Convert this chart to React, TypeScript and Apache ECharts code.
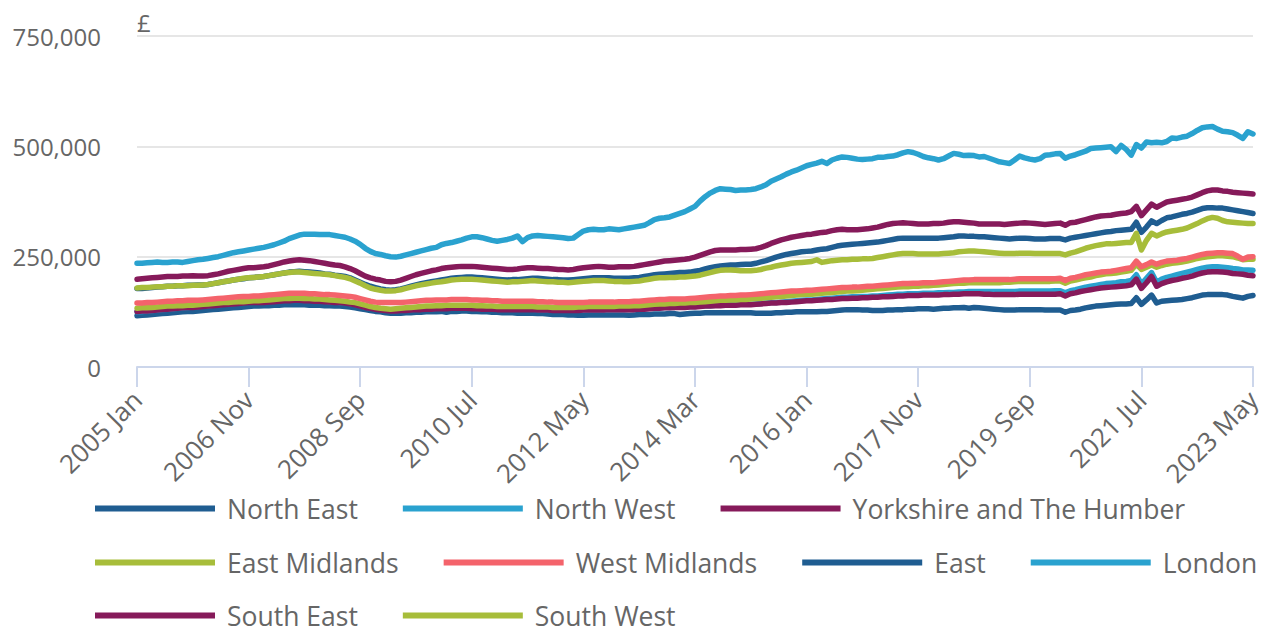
import React, { useEffect, useRef } from "react";
import * as echarts from "echarts";

// Average house price by region, monthly, £ thousands
const MONTHS = ["Jan", "Feb", "Mar", "Apr", "May", "Jun", "Jul", "Aug", "Sep", "Oct", "Nov", "Dec"];
const FIRST_YEAR = 2005;
const MONTH_COUNT = 221; // 2005 Jan .. 2023 May
const CATEGORIES: string[] = [];
for (let i = 0; i < MONTH_COUNT; i++) {
  CATEGORIES.push(`${FIRST_YEAR + Math.floor(i / 12)} ${MONTHS[i % 12]}`);
}

const NORTH_EAST = [
  116,117,118,119,120,121,122,123,124,125,126,126,
  127,128,129,130,131,132,133,134,135,136,137,138,
  138,139,139,140,140,141,141,141,141,141,140,140,
  140,139,139,138,138,137,136,134,132,130,128,126,
  125,123,122,122,122,123,123,124,124,125,125,125,
  126,124,126,126,127,127,126,126,125,125,124,124,
  123,123,123,122,122,122,122,121,121,120,119,119,
  119,118,118,117,117,118,118,118,118,118,118,118,
  118,117,118,119,119,119,120,120,120,121,121,119,
  120,121,122,122,123,123,123,123,123,123,123,123,
  123,123,122,122,122,122,123,123,124,124,125,125,
  125,125,125,126,126,127,128,129,130,130,130,129,
  129,128,128,128,129,129,130,130,131,131,132,132,
  132,131,132,133,133,134,134,135,133,135,134,133,
  132,131,130,129,129,129,130,130,130,130,130,129,
  129,129,129,124,128,129,131,134,136,138,139,140,
  141,142,143,143,144,157,142,152,163,145,149,150,
  151,152,153,155,157,160,163,164,164,164,164,163,
  160,158,156,160,162,
];

const NORTH_WEST = [
  125,126,127,128,129,130,131,132,133,134,135,136,
  137,138,139,140,141,142,143,144,145,146,147,148,
  148,149,150,151,151,151,152,152,152,152,151,151,
  150,149,148,147,146,146,144,142,139,136,134,132,
  130,129,128,128,129,129,130,131,131,132,132,133,
  133,133,134,134,134,134,133,133,132,132,132,131,
  131,131,131,131,131,131,131,130,130,130,129,129,
  129,129,129,129,130,130,130,130,130,131,131,131,
  131,131,131,132,132,133,134,134,135,135,136,136,
  136,137,137,138,139,139,140,140,141,141,141,142,
  142,142,143,144,145,146,146,147,148,149,150,151,
  152,152,153,154,155,156,157,158,158,159,159,160,
  160,161,161,162,163,164,165,165,166,166,166,167,
  167,167,168,168,169,169,170,170,171,171,171,171,
  171,171,171,171,171,171,172,172,172,172,172,172,
  172,173,173,168,173,175,178,181,183,185,187,189,
  190,191,193,194,196,209,188,201,214,192,199,203,
  206,209,212,215,218,221,224,226,227,227,226,225,
  223,222,220,220,219,
];

const YORKSHIRE = [
  126,127,127,128,129,130,131,132,133,134,135,135,
  136,137,138,139,140,141,142,143,144,145,146,146,
  146,146,147,148,149,150,150,151,151,150,150,149,
  149,148,147,146,146,145,143,141,138,135,133,131,
  129,128,127,127,128,128,129,130,130,131,131,132,
  132,132,133,133,133,133,132,132,131,131,131,130,
  130,130,130,130,130,130,130,129,129,129,128,128,
  128,128,128,128,129,129,129,129,129,130,130,130,
  130,130,130,131,131,132,133,133,134,134,135,135,
  135,136,136,137,138,138,139,139,140,140,140,141,
  141,141,142,143,144,145,145,146,146,147,148,149,
  150,150,151,152,153,153,154,155,155,156,156,157,
  157,158,158,159,159,160,161,161,162,162,162,163,
  163,163,163,164,164,165,165,166,166,166,166,165,
  165,164,164,164,164,164,165,165,165,165,165,165,
  165,165,166,161,166,168,171,173,175,177,179,180,
  181,182,183,184,186,199,178,191,205,183,189,193,
  196,198,201,203,206,210,213,215,216,216,215,214,
  212,211,210,208,207,
];

const EAST_MIDLANDS = [
  133,134,134,135,136,137,138,138,139,139,140,140,
  141,142,143,144,145,146,146,147,148,148,149,150,
  150,151,152,153,154,155,155,156,156,155,155,154,
  154,153,152,151,150,149,147,146,143,140,137,135,
  133,132,131,132,133,134,135,136,137,138,138,139,
  139,140,140,140,140,140,140,139,139,138,138,137,
  137,137,137,137,137,137,137,136,136,136,135,135,
  135,135,135,136,136,137,137,137,137,137,137,138,
  138,138,139,139,140,141,142,143,143,144,144,145,
  145,146,146,147,148,149,150,151,151,152,152,153,
  153,154,155,156,157,158,159,160,161,162,163,164,
  165,165,166,167,168,169,170,171,172,172,173,174,
  175,176,177,178,179,180,181,182,182,183,183,184,
  184,185,186,187,188,189,190,190,191,191,191,191,
  191,191,191,192,192,193,194,194,194,194,194,194,
  194,195,195,190,195,197,200,202,204,207,209,211,
  212,213,215,217,219,233,221,226,231,226,230,233,
  235,236,238,240,243,246,248,250,251,252,252,251,
  250,247,243,244,244,
];

const WEST_MIDLANDS = [
  145,145,146,146,147,148,149,149,150,150,151,151,
  151,152,153,154,155,156,157,158,159,160,160,161,
  161,162,163,164,165,166,167,167,167,167,166,166,
  165,164,164,163,162,161,160,158,155,152,149,147,
  146,146,146,146,146,147,148,149,150,151,151,152,
  152,152,153,153,153,153,152,152,151,151,150,150,
  149,149,149,149,149,149,149,148,148,147,147,146,
  146,146,146,146,146,147,147,147,147,147,147,148,
  148,148,149,149,150,151,152,153,153,154,154,154,
  154,155,156,157,158,159,160,161,161,162,162,163,
  163,164,165,166,167,168,169,170,171,172,172,173,
  174,174,175,176,177,178,179,180,180,181,181,182,
  183,183,184,185,186,187,188,189,189,190,190,191,
  191,191,192,193,194,195,196,197,197,198,198,198,
  198,198,198,198,198,199,200,200,200,200,200,200,
  200,200,201,196,201,203,206,209,211,213,215,216,
  217,219,221,223,225,240,227,232,238,233,237,240,
  241,242,244,246,249,252,255,257,258,259,259,258,
  257,251,244,249,250,
];

const EAST = [
  178,178,179,180,181,182,183,183,184,184,185,185,
  186,186,187,189,191,193,195,197,199,200,202,203,
  204,205,207,209,211,213,215,216,217,216,215,214,
  213,211,210,208,207,205,202,197,192,187,183,180,
  177,175,174,175,177,180,183,186,189,191,193,195,
  197,199,201,202,203,204,204,203,202,201,200,199,
  198,197,198,198,199,200,201,201,200,199,198,198,
  197,197,198,199,200,201,202,202,202,202,201,201,
  201,201,202,203,205,207,209,210,211,212,213,214,
  214,215,217,219,222,225,227,229,230,231,231,232,
  233,233,235,238,241,245,249,252,255,257,259,261,
  262,263,265,267,268,271,274,276,277,278,279,280,
  281,282,283,285,287,289,291,292,292,292,292,292,
  292,292,292,293,294,295,297,297,296,296,295,295,
  294,293,292,291,290,291,292,292,291,290,290,290,
  291,291,291,288,292,294,296,298,300,302,304,306,
  307,309,310,311,312,328,305,317,331,325,332,338,
  340,343,346,348,351,355,359,361,361,360,360,358,
  356,354,352,350,348,
];

const LONDON = [
  235,235,236,237,238,237,237,238,238,237,239,241,
  243,244,246,248,250,253,256,259,261,263,265,267,
  269,271,274,277,281,285,291,295,299,301,301,301,
  300,300,300,298,296,294,290,285,278,269,262,257,
  255,252,250,249,251,254,257,260,263,266,269,271,
  277,280,282,285,288,292,295,295,293,290,287,285,
  287,289,292,297,284,293,297,298,297,296,295,294,
  293,291,292,300,308,311,312,311,311,313,312,311,
  313,315,317,319,321,327,334,337,338,340,344,348,
  352,358,364,376,386,394,400,404,403,402,400,401,
  401,402,404,408,413,421,426,431,437,442,446,451,
  456,459,462,466,461,469,473,476,475,473,471,470,
  471,472,475,475,477,478,481,485,488,486,482,477,
  474,472,469,472,478,484,482,479,480,479,476,477,
  473,469,465,463,461,469,478,474,471,469,472,480,
  481,483,484,473,478,481,485,489,495,496,497,498,
  499,488,502,493,480,504,496,510,508,509,508,511,
  519,518,521,523,529,536,542,544,545,539,534,533,
  531,525,518,533,528,
];

const SOUTH_EAST = [
  199,200,201,202,203,204,205,205,205,206,206,207,
  206,206,207,209,211,214,217,219,221,223,225,225,
  226,227,229,232,235,238,240,242,243,242,241,239,
  237,235,233,231,230,227,223,218,212,206,202,199,
  197,194,193,194,197,201,205,209,212,215,218,220,
  223,225,226,227,228,228,228,227,226,225,224,223,
  222,221,221,222,224,225,225,224,223,223,222,221,
  221,220,221,223,225,226,227,228,227,226,226,227,
  227,227,228,230,232,234,236,238,240,241,242,243,
  244,246,249,253,257,261,264,265,265,265,265,266,
  266,267,268,271,275,280,284,288,291,294,296,298,
  300,301,303,305,306,309,311,312,311,311,311,312,
  313,315,317,320,323,325,326,327,326,325,324,324,
  324,325,325,326,328,329,329,328,327,326,324,324,
  324,324,324,323,324,325,326,327,326,325,324,323,
  324,325,326,321,327,328,331,334,337,340,342,343,
  344,346,348,349,352,364,343,356,369,362,368,374,
  376,378,380,382,385,390,395,399,401,401,399,398,
  396,395,394,393,392,
];

const SOUTH_WEST = [
  179,180,180,181,182,182,183,183,184,184,184,185,
  185,186,187,189,191,193,195,197,199,201,202,203,
  204,205,207,209,211,213,214,215,215,214,213,212,
  211,210,209,207,205,203,200,195,190,184,179,176,
  174,172,172,173,175,178,181,184,186,188,190,192,
  193,195,197,198,199,199,199,198,197,196,195,194,
  193,192,193,193,194,195,196,195,194,193,193,192,
  192,191,192,193,194,195,196,196,196,195,194,194,
  193,193,194,195,197,199,201,202,202,203,203,204,
  204,205,206,208,211,214,217,219,220,220,219,218,
  218,218,219,221,224,226,229,231,233,235,236,237,
  238,239,243,237,239,241,242,243,243,244,244,245,
  245,246,248,250,252,254,256,257,257,257,256,256,
  256,256,256,257,258,259,261,262,263,263,262,261,
  260,259,258,257,257,257,258,258,258,257,257,257,
  257,257,257,254,258,261,265,269,272,275,277,279,
  279,280,281,282,282,303,265,287,303,297,302,306,
  308,310,312,315,320,325,331,336,339,337,332,329,
  328,327,326,325,325,
];

const SERIES_NAMES = [
  "North East", "North West", "Yorkshire and The Humber", "East Midlands",
  "West Midlands", "East", "London", "South East", "South West",
];
const SERIES_VALUES = [
  NORTH_EAST, NORTH_WEST, YORKSHIRE, EAST_MIDLANDS,
  WEST_MIDLANDS, EAST, LONDON, SOUTH_EAST, SOUTH_WEST,
];
const SERIES_COLORS = [
  "#1f5d91", "#2aa2cf", "#861a5a", "#a7bd3a",
  "#f4636b", "#1f5d91", "#2aa2cf", "#861a5a", "#a7bd3a",
];
// legend rows as laid out in the reference
const LEGEND_ROWS = [
  ["North East", "North West", "Yorkshire and The Humber"],
  ["East Midlands", "West Midlands", "East", "London"],
  ["South East", "South West"],
];
const LEGEND_TOPS = [495, 549, 602];

const FONT = "'Open Sans', 'Noto Sans', sans-serif";

export default function App() {
  const ref = useRef<HTMLDivElement>(null);

  useEffect(() => {
    document.body.style.margin = "0";
    document.documentElement.style.overflow = "hidden";
    if (!ref.current) return;
    const chart = echarts.init(ref.current, null, { renderer: "svg" });
    chart.setOption({
      animation: false,
      textStyle: { fontFamily: FONT },
      grid: {
        left: 137, right: 9, top: 36, bottom: 262,
        containLabel: false,
        outerBoundsMode: "none",
      },
      legend: LEGEND_ROWS.map((row, r) => ({
        left: 95,
        top: LEGEND_TOPS[r],
        width: 1200,
        padding: 0,
        icon: "rect",
        itemWidth: 120,
        itemHeight: 6,
        itemGap: 45,
        itemStyle: { borderWidth: 0 },
        textStyle: {
          fontFamily: FONT,
          fontSize: 26.5,
          lineHeight: 22,
          color: "#666666",
          padding: [0, 0, 0, 7],
        },
        data: row,
      })),
      xAxis: {
        type: "category",
        data: CATEGORIES,
        boundaryGap: false,
        axisLine: { lineStyle: { color: "#ccd6eb", width: 2 } },
        axisTick: { show: true, interval: 21, length: 20, lineStyle: { color: "#ccd6eb", width: 2 } },
        axisLabel: {
          interval: 21,
          rotate: 45,
          margin: 28,
          verticalAlign: "middle",
          padding: [4, 0, 0, 0],
          fontFamily: FONT,
          fontSize: 26,
          color: "#666666",
        },
        splitLine: { show: false },
      },
      yAxis: {
        type: "value",
        min: 0,
        max: 750000,
        interval: 250000,
        name: "£",
        nameLocation: "end",
        nameGap: 2,
        nameTextStyle: {
          align: "left",
          verticalAlign: "bottom",
          fontFamily: FONT,
          fontSize: 24,
          color: "#666666",
        },
        axisLine: { show: false },
        axisTick: { show: false },
        axisLabel: {
          margin: 36,
          fontFamily: FONT,
          fontSize: 24,
          color: "#666666",
          formatter: (v: number) => v.toLocaleString("en-US"),
        },
        splitLine: { lineStyle: { color: "#e6e6e6", width: 2 } },
      },
      series: SERIES_NAMES.map((name, i) => ({
        name,
        type: "line",
        data: SERIES_VALUES[i].map((v) => v * 1000),
        showSymbol: false,
        symbol: "none",
        color: SERIES_COLORS[i],
        lineStyle: { width: 5.5, color: SERIES_COLORS[i], join: "round", cap: "round" },
        emphasis: { disabled: true },
      })),
    });
    return () => chart.dispose();
  }, []);

  return <div ref={ref} style={{ width: 1262, height: 629 }} />;
}
